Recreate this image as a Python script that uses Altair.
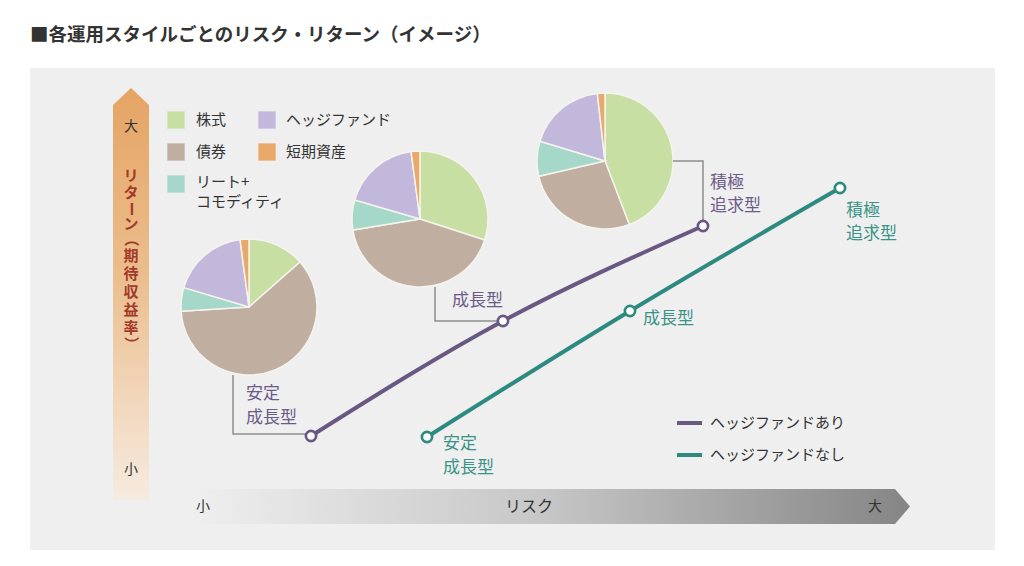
import altair as alt
import pandas as pd

W, H = 1024, 566
FONT = "Noto Sans CJK JP"

# ---------------- data ----------------
title_text = "■各運用スタイルごとのリスク・リターン（イメージ）"

assets = ["株式", "債券", "リート+コモディティ", "ヘッジファンド", "短期資産"]
asset_colors = ["#c7dfa2", "#c0aea1", "#a6d8c9", "#c2b8dc", "#e8a96b"]

styles = ["安定成長型", "成長型", "積極追求型"]
alloc_stable = [13.5, 60.5, 5.6, 18.3, 2.1]
alloc_growth = [30.0, 42.4, 7.1, 18.4, 2.1]
alloc_aggr = [44.2, 27.2, 8.3, 18.5, 1.8]
allocs = [alloc_stable, alloc_growth, alloc_aggr]

# pie centres (canvas units)
pie_x = [249, 420, 605]
pie_y = [307, 219, 161]

# risk / return positions of each style (canvas units)
risk_with_hf = [311, 503, 703]
ret_with_hf = [436, 321, 226]
risk_without_hf = [427, 630, 840]
ret_without_hf = [437, 311, 188]

series_names = ["ヘッジファンドあり", "ヘッジファンドなし"]
PURPLE = "#695882"
TEAL = "#2d8a7f"
PURPLE_TXT = "#6c5b88"
TEAL_TXT = "#3a9387"
LEADER = "#8e8e8e"

vertical_label = ["リ", "タ", "ー", "ン", "（", "期", "待", "収", "益", "率", "）"]
vertical_rot = [0, 0, 90, 0, 90, 0, 0, 0, 0, 0, 90]

XS = alt.Scale(domain=[0, W], range=[0, W])
YS = alt.Scale(domain=[0, H], range=[0, H])


def X(f):
    return alt.X(f"{f}:Q", scale=XS, axis=None)


def Y(f):
    return alt.Y(f"{f}:Q", scale=YS, axis=None)


layers = []

# background panel
bg = pd.DataFrame({"x": [30], "x2": [995], "y": [68], "y2": [550]})
layers.append(
    alt.Chart(bg).mark_rect(color="#efefef").encode(
        x=X("x"), x2="x2:Q", y=Y("y"), y2="y2:Q"
    )
)

# vertical (return) arrow
varrow = pd.DataFrame({"y": [88, 105, 500], "x": [131, 113, 113], "x2": [131, 149, 149]})
vgrad = alt.Gradient(
    gradient="linear",
    stops=[
        alt.GradientStop(color="#e5a464", offset=0),
        alt.GradientStop(color="#ebbd8c", offset=0.45),
        alt.GradientStop(color="#f6ebe0", offset=1),
    ],
    x1=0, x2=0, y1=0, y2=1,
)
layers.append(
    alt.Chart(varrow).mark_area(orient="horizontal", color=vgrad).encode(
        y=Y("y"), x=X("x"), x2="x2:Q"
    )
)

# horizontal (risk) arrow
harrow = pd.DataFrame({"x": [183, 895, 910], "y": [489, 489, 506.5], "y2": [524, 524, 506.5]})
hgrad = alt.Gradient(
    gradient="linear",
    stops=[
        alt.GradientStop(color="#f0f0f0", offset=0),
        alt.GradientStop(color="#c6c6c6", offset=0.5),
        alt.GradientStop(color="#858585", offset=1),
    ],
    x1=0, x2=1, y1=0, y2=0,
)
layers.append(
    alt.Chart(harrow).mark_area(orient="vertical", color=hgrad).encode(
        x=X("x"), y=Y("y"), y2="y2:Q"
    )
)

# arrow end labels
arrow_txt = pd.DataFrame({
    "t": ["大", "小", "小", "リスク", "大"],
    "x": [131, 131, 203, 529, 875],
    "y": [127, 470, 507, 507, 507],
    "s": [14, 14, 14, 16, 14],
    "w": ["normal", "normal", "normal", "bold", "normal"],
})
layers.append(
    alt.Chart(arrow_txt).mark_text(font=FONT, color="#333333", baseline="middle", align="center").encode(
        x=X("x"), y=Y("y"), text="t:N", size=alt.Size("s:Q", scale=None),
    )
)

# vertical return label
vt = pd.DataFrame({
    "c": vertical_label,
    "rot": vertical_rot,
    "x": [131] * len(vertical_label),
    "y": [176, 193, 209, 224, 239, 256, 274, 292, 310, 328, 344],
})
layers.append(
    alt.Chart(vt).mark_text(font=FONT, fontSize=15, fontWeight="bold", color="#a23a2c",
                            baseline="middle", align="center").encode(
        x=X("x"), y=Y("y"), text="c:N", angle=alt.Angle("rot:Q", scale=None)
    )
)

# top-left legend
CS = alt.Scale(domain=assets, range=asset_colors)
leg = pd.DataFrame({
    "asset": ["株式", "債券", "リート+コモディティ", "ヘッジファンド", "短期資産"],
    "x": [176, 176, 176, 267, 267],
    "y": [120, 152, 184, 120, 152],
})
layers.append(
    alt.Chart(leg).mark_square(size=300, opacity=1).encode(
        x=X("x"), y=Y("y"), color=alt.Color("asset:N", scale=CS, legend=None)
    )
)
leg_txt = pd.DataFrame({
    "t": ["株式", "債券", "リート+", "コモディティ", "ヘッジファンド", "短期資産"],
    "x": [196, 196, 196, 196, 286, 286],
    "y": [120, 152, 182, 202, 120, 152],
})
layers.append(
    alt.Chart(leg_txt).mark_text(font=FONT, fontSize=15, color="#333333", align="left", baseline="middle").encode(
        x=X("x"), y=Y("y"), text="t:N"
    )
)

# pies
for i, st in enumerate(styles):
    d = pd.DataFrame({
        "asset": assets,
        "value": allocs[i],
        "ord": list(range(len(assets))),
        "cx": [pie_x[i]] * len(assets),
        "cy": [pie_y[i]] * len(assets),
        "style": [st] * len(assets),
    })
    layers.append(
        alt.Chart(d).mark_arc(radius=68, stroke="#f6f3ee", strokeWidth=1.5).encode(
            theta=alt.Theta("value:Q", stack=True),
            color=alt.Color("asset:N", scale=CS, legend=None),
            order=alt.Order("ord:Q"),
            x=X("cx"),
            y=Y("cy"),
        )
    )

# leader lines
lead = pd.DataFrame({
    "g": [0, 0, 0, 1, 1, 1, 2, 2, 2],
    "o": [0, 1, 2, 0, 1, 2, 0, 1, 2],
    "x": [233, 233, 305, 435, 435, 497, 673, 703, 703],
    "y": [375, 434, 434, 287, 321, 321, 161, 161, 220],
})
layers.append(
    alt.Chart(lead).mark_line(color=LEADER, strokeWidth=1.5, strokeCap="butt").encode(
        x=X("x"), y=Y("y"), detail="g:N", order="o:Q"
    )
)

# risk/return lines
with_df = pd.DataFrame({"risk": risk_with_hf, "ret": ret_with_hf, "style": styles})
without_df = pd.DataFrame({"risk": risk_without_hf, "ret": ret_without_hf, "style": styles})
for d, col in [(with_df, PURPLE), (without_df, TEAL)]:
    layers.append(
        alt.Chart(d).mark_line(color=col, strokeWidth=4, interpolate="monotone").encode(
            x=X("risk"), y=Y("ret")
        )
    )
for d, col in [(with_df, PURPLE), (without_df, TEAL)]:
    layers.append(
        alt.Chart(d).mark_circle(size=105, fill="white", stroke=col, strokeWidth=2.6, opacity=1).encode(
            x=X("risk"), y=Y("ret")
        )
    )

# style labels
lab_p = pd.DataFrame({
    "t": ["安定", "成長型", "成長型", "積極", "追求型"],
    "x": [246, 246, 452, 710, 710],
    "y": [394, 418, 301, 183, 206],
})
lab_t = pd.DataFrame({
    "t": ["安定", "成長型", "成長型", "積極", "追求型"],
    "x": [443, 443, 643, 846, 846],
    "y": [444, 468, 319, 211, 234],
})
for d, col in [(lab_p, PURPLE_TXT), (lab_t, TEAL_TXT)]:
    layers.append(
        alt.Chart(d).mark_text(font=FONT, fontSize=17, color=col, align="left", baseline="middle").encode(
            x=X("x"), y=Y("y"), text="t:N"
        )
    )

# bottom-right legend
sl = pd.DataFrame({"x": [677, 677], "x2": [702, 702], "y": [423, 455], "s": series_names})
for i, col in enumerate([PURPLE, TEAL]):
    layers.append(
        alt.Chart(sl.iloc[[i]]).mark_rule(color=col, strokeWidth=4).encode(
            x=X("x"), x2="x2:Q", y=Y("y")
        )
    )
layers.append(
    alt.Chart(pd.DataFrame({"t": series_names, "x": [710, 710], "y": [423, 455]})).mark_text(
        font=FONT, fontSize=15, color="#333333", align="left", baseline="middle"
    ).encode(x=X("x"), y=Y("y"), text="t:N")
)

# title
layers.append(
    alt.Chart(pd.DataFrame({"t": [title_text], "x": [30], "y": [35]})).mark_text(
        font=FONT, fontSize=18.5, fontWeight="bold", color="#333333", align="left", baseline="middle"
    ).encode(x=X("x"), y=Y("y"), text="t:N")
)

chart = (
    alt.layer(*layers)
    .properties(width=W, height=H, padding=0, autosize=alt.AutoSizeParams(type="none"), background="white")
    .configure_view(stroke=None)
)

chart.save("out.html", embed_options={"renderer": "svg", "actions": False})
